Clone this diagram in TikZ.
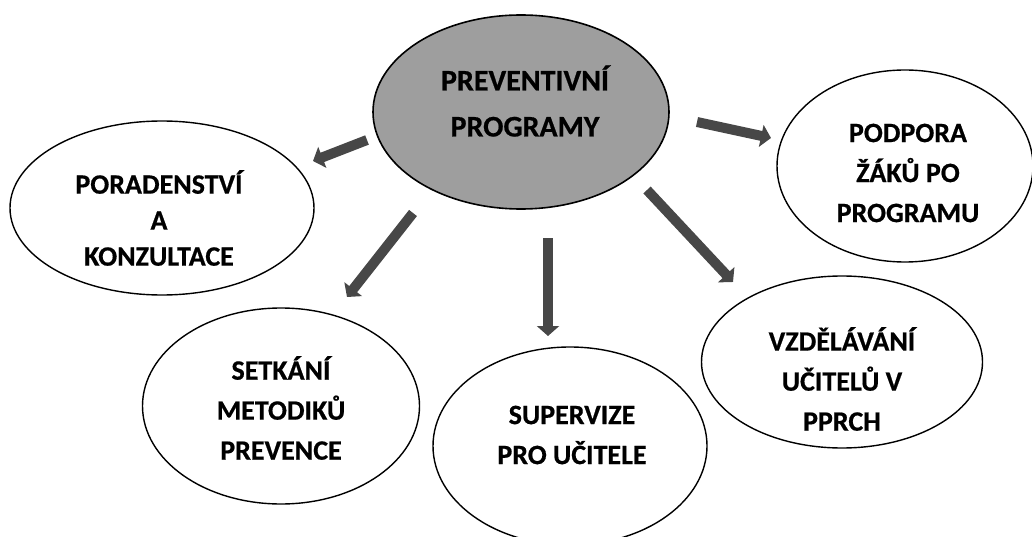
\documentclass[tikz,border=0pt]{standalone}
\usepackage{fontspec}
\setmainfont{Carlito}[BoldFeatures={FakeBold=0.6}]
\usetikzlibrary{arrows.meta,shapes.geometric}
\tikzset{
  bubble/.style={ellipse, draw=black, line width=1.4pt, fill=white, inner sep=0pt},
  hub/.style={ellipse, draw=black, line width=1.6pt, fill=black!38, inner sep=0pt},
  label/.style={align=center, inner sep=0pt, font=\fontsize{28}{40}\selectfont\bfseries},
  hublabel/.style={align=center, inner sep=0pt, font=\fontsize{30}{46}\selectfont\bfseries},
  blockarrow/.style={draw=black!72, line width=10pt, -{Triangle[width=22pt,length=10pt]}},
}
\begin{document}
\begin{tikzpicture}[x=1pt,y=-1pt]
\useasboundingbox (0,0) rectangle (1032,537);
\node[hub, minimum width=296pt, minimum height=194pt] (c) at (521,112) {};
\node[hublabel] (ct) at (525,101) {PREVENTIVNÍ\\PROGRAMY};
\node[bubble, minimum width=304pt, minimum height=174pt] (p) at (162,208) {};
\node[label, font=\fontsize{28}{36}\selectfont\bfseries] (pt) at (159,218) {PORADENSTVÍ\\A\\KONZULTACE};
\node[bubble, minimum width=256pt, minimum height=192pt] (z) at (905,166) {};
\node[label] (zt) at (908,173) {PODPORA\\ŽÁKŮ PO\\PROGRAMU};
\node[bubble, minimum width=277pt, minimum height=196pt] (s) at (281,406) {};
\node[label] (st) at (281,408) {SETKÁNÍ\\METODIKŮ\\PREVENCE};
\node[bubble, minimum width=274pt, minimum height=198pt] (u) at (570,446) {};
\node[label] (ut) at (572,435) {SUPERVIZE\\PRO UČITELE};
\node[bubble, minimum width=281pt, minimum height=172pt] (v) at (842,362) {};
\node[label] (vt) at (842,379) {VZDĚLÁVÁNÍ\\UČITELŮ V\\PPRCH};
\coordinate (a1s) at (367,140); \coordinate (a1e) at (313,161);
\coordinate (a2s) at (413,213); \coordinate (a2e) at (347,297);
\coordinate (a3s) at (548,238); \coordinate (a3e) at (548,336);
\coordinate (a4s) at (647,190); \coordinate (a4e) at (733,282);
\coordinate (a5s) at (697,122); \coordinate (a5e) at (771,138);
\draw[blockarrow] (a1s) -- (a1e);
\draw[blockarrow] (a2s) -- (a2e);
\draw[blockarrow] (a3s) -- (a3e);
\draw[blockarrow] (a4s) -- (a4e);
\draw[blockarrow] (a5s) -- (a5e);
\end{tikzpicture}
\end{document}
